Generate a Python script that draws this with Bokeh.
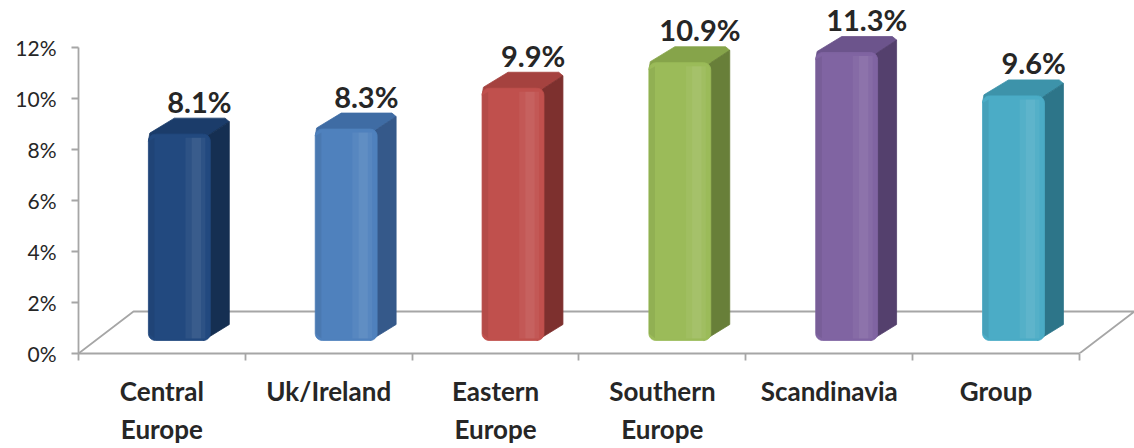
import math
from bokeh.plotting import figure
from bokeh.models import Range1d, FixedTicker
from bokeh.core.properties import value
from bokeh.embed import file_html
from bokeh.resources import INLINE

# ---- data ----
categories = ["Central\nEurope", "Uk/Ireland", "Eastern\nEurope", "Southern\nEurope", "Scandinavia", "Group"]
values = [8.1, 8.3, 9.9, 10.9, 11.3, 9.6]
value_labels = ["8.1%", "8.3%", "9.9%", "10.9%", "11.3%", "9.6%"]
y_ticks = [0, 2, 4, 6, 8, 10, 12]
y_tick_labels = ["0%", "2%", "4%", "6%", "8%", "10%", "12%"]

# ---- style ----
front_colors = ["#22497f", "#4f81bd", "#c0504d", "#9bbb59", "#8064a2", "#4bacc6"]
top_colors = ["#1b3c6a", "#3f6ca4", "#a5423f", "#86a44a", "#6c548c", "#3d93aa"]
side_colors = ["#152f52", "#35598a", "#7d302e", "#687f39", "#54406d", "#2d7589"]
GRAY = "#a6a6a6"
FONT = "Lato"

W, H = 1134, 448
LEFT, BOTTOM = 78, 95
X_END = 6.33
Y_END = 13.84
KX = (W - LEFT) / X_END
KY = (H - BOTTOM) / Y_END

p = figure(width=W, height=H, output_backend="svg", toolbar_location=None,
           x_range=Range1d(0, X_END), y_range=Range1d(0, Y_END),
           min_border_left=LEFT, min_border_right=0, min_border_top=0,
           min_border_bottom=BOTTOM)
p.outline_line_color = None
p.xgrid.visible = False
p.ygrid.visible = False
p.background_fill_color = "white"
p.border_fill_color = "white"

# floor (perspective parallelogram)
fdx, fdy = 55 / KX, 42 / KY
n = len(categories)
p.line([0, fdx, n + fdx, n], [0, fdy, fdy, 0], line_color=GRAY, line_width=1.8)

# bars
ddx, ddy = 19 / KX, 16 / KY
off0, off1 = 0.419, 0.790
base = 0.51
r = 7  # px radius
rx, ry = r / KX, r / KY


def arc(cx, cy, a0, a1, steps=6):
    pts = []
    for k in range(steps + 1):
        a = math.radians(a0 + (a1 - a0) * k / steps)
        pts.append((cx + rx * math.cos(a), cy + ry * math.sin(a)))
    return pts


fx, fy, tx, ty, sx, sy = [], [], [], [], [], []
h1x, h1y, h2x, h2y, lx, ly = [], [], [], [], [], []
for i, v in enumerate(values):
    x0, x1 = i + off0, i + off1
    y0, y1 = base, v + 0.5
    pts = []
    pts += arc(x0 + rx, y0 + ry, 180, 270)
    pts += arc(x1 - rx, y0 + ry, 270, 360)
    pts += arc(x1 - rx, y1 - ry, 0, 90)
    pts += arc(x0 + rx, y1 - ry, 90, 180)
    fx.append([q[0] for q in pts]); fy.append([q[1] for q in pts])
    # top face
    tx.append([x0, x1, x1, x1 + ddx, x1 + ddx - rx * 0.6, x0 + ddx + rx, x0 + rx * 0.2])
    ty.append([y1 - ry, y1 - ry, y1, y1 + ddy - ry * 0.5, y1 + ddy, y1 + ddy, y1 + ry * 0.15])
    # side face
    sx.append([x1 - rx, x1 + ddx, x1 + ddx, x1, x1 - rx])
    sy.append([y0, y0 + ddy, y1 + ddy - ry * 0.5, y1, y1 - ry])
    # soft highlight on front face
    w = x1 - x0
    h1x.append([x0 + 0.60 * w, x0 + 0.92 * w, x0 + 0.92 * w, x0 + 0.60 * w])
    h1y.append([y0 + ry * 0.3, y0 + ry * 0.3, y1 - ry * 0.5, y1 - ry * 0.5])
    h2x.append([x0 + 0.70 * w, x0 + 0.85 * w, x0 + 0.85 * w, x0 + 0.70 * w])
    h2y.append([y0 + ry * 0.3, y0 + ry * 0.3, y1 - ry * 0.5, y1 - ry * 0.5])
    lx.append([x0, x0 + 0.10 * w, x0 + 0.10 * w, x0])
    ly.append([y0 + ry, y0 + ry * 0.3, y1 - ry * 0.5, y1 - ry])

p.patches(tx, ty, fill_color=top_colors, line_color=top_colors, line_width=0.8)
p.patches(sx, sy, fill_color=side_colors, line_color=side_colors, line_width=0.8)
p.patches(fx, fy, fill_color=front_colors, line_color=front_colors, line_width=0.8)
p.patches(h1x, h1y, fill_color="white", fill_alpha=0.05, line_color=None)
p.patches(h2x, h2y, fill_color="white", fill_alpha=0.06, line_color=None)
p.patches(lx, ly, fill_color="black", fill_alpha=0.06, line_color=None)

# value labels
p.text(x=[i + 0.725 for i in range(n)], y=[v + 1.79 for v in values], text=value_labels,
       text_font=value(FONT), text_font_style="bold", text_font_size="29px",
       text_color="#262626", text_align="center", text_baseline="alphabetic")

# y axis
ya = p.yaxis[0]
ya.ticker = FixedTicker(ticks=y_ticks, minor_ticks=[])
ya.major_label_overrides = {t: s for t, s in zip(y_ticks, y_tick_labels)}
ya.bounds = (0, 12)
ya.axis_line_color = GRAY
ya.axis_line_width = 1.8
ya.major_tick_line_color = GRAY
ya.major_tick_line_width = 1.8
ya.major_tick_out = 7
ya.major_tick_in = 0
ya.major_label_standoff = 15
ya.major_label_text_font = FONT
ya.major_label_text_font_size = "21px"
ya.major_label_text_color = "#262626"

# x axis
xa = p.xaxis[0]
centers = [i + 0.5 for i in range(n)]
xa.ticker = FixedTicker(ticks=centers, minor_ticks=list(range(n + 1)))
xa.major_label_overrides = {c: s for c, s in zip(centers, categories)}
xa.bounds = (0, n)
xa.axis_line_color = GRAY
xa.axis_line_width = 1.8
xa.major_tick_line_color = None
xa.minor_tick_line_color = GRAY
xa.minor_tick_line_width = 1.8
xa.minor_tick_out = 7
xa.minor_tick_in = 0
xa.major_label_standoff = 14
xa.major_label_text_font = FONT
xa.major_label_text_font_style = "bold"
xa.major_label_text_font_size = "26px"
xa.major_label_text_line_height = 1.2
xa.major_label_text_color = "#262626"

open("out.html", "w").write(file_html(p, INLINE))
